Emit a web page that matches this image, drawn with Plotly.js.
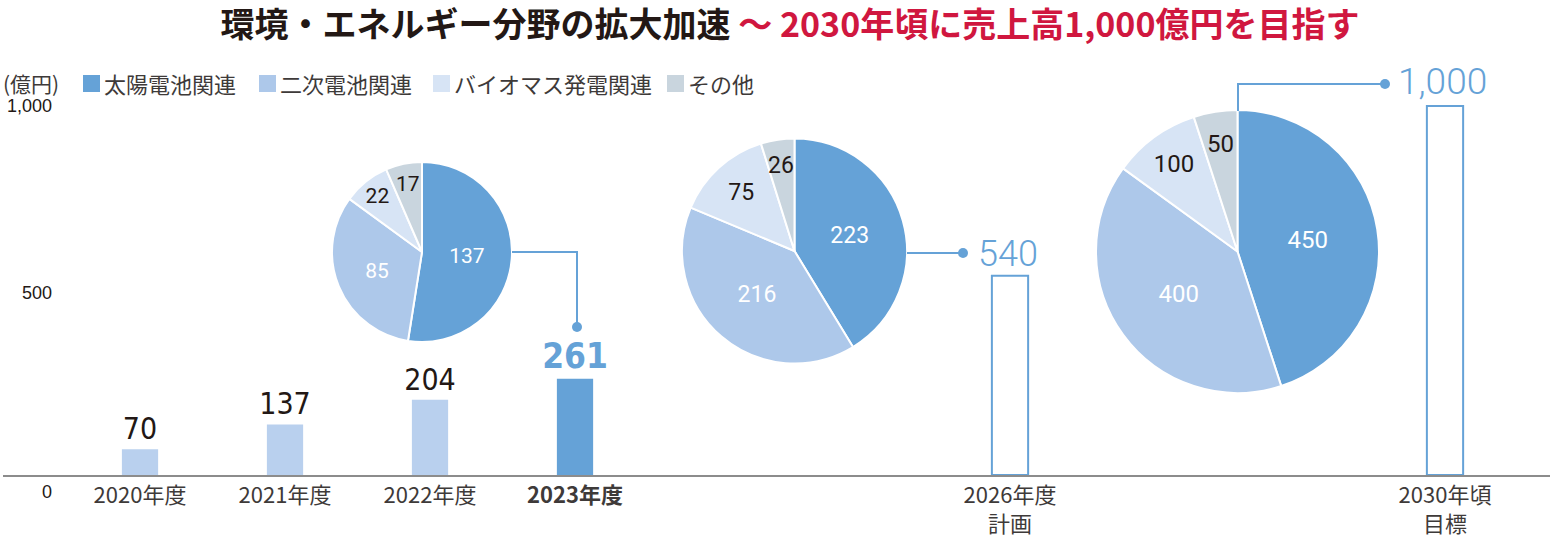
<!DOCTYPE html>
<html>
<head>
<meta charset="utf-8">
<script src="https://cdn.plot.ly/plotly-3.0.1.min.js"></script>
<style>html,body{margin:0;padding:0;background:#fff;}#chart{width:1550px;height:540px;}</style>
</head>
<body>
<div id="chart"></div>
<script>
// ---------- data ----------
const categories = ['2020年度', '2021年度', '2022年度', '<b>2023年度</b>', '2026年度<br>計画', '2030年頃<br>目標'];
const xSlots = [0, 1, 2, 3, 6, 9];            // slot index on the time axis
const totals = [70, 137, 204, 261, 540, 1000]; // 億円
const segmentNames = ['太陽電池関連', '二次電池関連', 'バイオマス発電関連', 'その他'];
const pie2023 = [137, 85, 22, 17];
const pie2026 = [223, 216, 75, 26];
const pie2030 = [450, 400, 100, 50];
const yTickVals = [0, 500, 1000];
const yTickText = ['0', '500', '1,000'];
const unitLabel = '(億円)';
const titleMain = '環境・エネルギー分野の拡大加速';
const titleSub = '〜 2030年頃に売上高1,000億円を目指す';

// ---------- style ----------
const BLUE = '#65a2d7';
const segColors = ['#65a2d7', '#adc8ea', '#d7e4f5', '#c9d5de'];
const BAR_LIGHT = '#b9d0ee';
const INK = '#231815';
const CJK = 'Noto Sans CJK JP, sans-serif';
const NARROW = 'Liberation Sans Narrow, DejaVu Sans Condensed, sans-serif';
const PIEFONT = 'Roboto, Liberation Sans, sans-serif';

const M = {l: 3, r: 0, t: 60, b: 65};
const W = 1550, H = 540;
const PW = W - M.l - M.r, PH = H - M.t - M.b;
const px = x => (x - M.l) / PW;
const py = y => (H - M.b - y) / PH;

// ---------- bars ----------
const barColors = totals.map((v, i) => i < 3 ? BAR_LIGHT : (i === 3 ? BLUE : '#ffffff'));
const barLineW = totals.map((v, i) => i > 3 ? 2 : 0);
const barText = totals.map((v, i) => i < 3 ? String(v) : (i === 3 ? '<b>' + v + '</b>' : ''));
const fmt = v => v.toLocaleString('en-US');

const traces = [{
  type: 'bar', x: xSlots, y: totals, width: 0.25,
  marker: {color: barColors, line: {color: BLUE, width: barLineW}},
  text: barText, textposition: 'outside', constraintext: 'none', cliponaxis: false,
  textfont: {
    family: NARROW,
    size: totals.map((v, i) => i === 3 ? 35 : 30),
    color: totals.map((v, i) => i === 3 ? BLUE : INK)
  },
  hoverinfo: 'skip', showlegend: false
}];

const shapes = [];
const annotations = [];

function pieTrace(vals, cx, cy, r, fs) {
  // the smallest slice's label is placed along its bisector (the library would shrink it)
  const total = vals.reduce((a, b) => a + b, 0);
  let acc = 0;
  vals.forEach((v, i) => {
    const mid = (acc + v / 2) / total * 2 * Math.PI; acc += v;
    if (i === vals.length - 1) {
      const rr = 0.77 * r;
      annotations.push({xref: 'paper', yref: 'paper', x: px(cx + rr * Math.sin(mid)), y: py(cy - rr * Math.cos(mid)),
        xanchor: 'center', yanchor: 'middle', text: String(v), showarrow: false,
        font: {family: PIEFONT, size: fs, color: INK}});
    }
  });
  return {
    type: 'pie', values: vals, labels: segmentNames, sort: false,
    direction: 'clockwise', rotation: 0,
    domain: {x: [px(cx - r), px(cx + r)], y: [py(cy + r), py(cy - r)]},
    marker: {colors: segColors, line: {color: '#ffffff', width: 2}},
    textinfo: 'value', textposition: ['inside', 'inside', 'inside', 'none'], insidetextorientation: 'horizontal',
    textfont: {family: PIEFONT, size: fs, color: ['#fff', '#fff', INK, INK]},
    hoverinfo: 'skip', showlegend: false
  };
}
traces.push(pieTrace(pie2023, 422, 252, 90, 21));
traces.push(pieTrace(pie2026, 794.5, 251, 112.5, 23));
traces.push(pieTrace(pie2030, 1237.5, 251.5, 141.5, 24));

// ---------- leader lines ----------
function seg(x0, y0, x1, y1) {
  shapes.push({type: 'line', xref: 'paper', yref: 'paper', x0: px(x0), y0: py(y0), x1: px(x1), y1: py(y1),
    line: {color: BLUE, width: 2}});
}
function dot(x, y, r) {
  shapes.push({type: 'circle', xref: 'paper', yref: 'paper', x0: px(x - r), x1: px(x + r), y0: py(y + r), y1: py(y - r),
    fillcolor: BLUE, line: {color: BLUE, width: 0}});
}
seg(512, 252, 577, 252); seg(577, 251, 577, 327); dot(577, 327, 5);
seg(907, 253, 963, 253); dot(963, 253, 5);
seg(1238, 111, 1238, 84); seg(1237, 84, 1385, 84); dot(1385, 84, 5);

annotations.push({xref: 'paper', yref: 'paper', x: px(976), y: py(254), xanchor: 'left', yanchor: 'middle',
  text: fmt(totals[4]), showarrow: false, font: {family: 'Roboto, sans-serif', size: 36, color: BLUE, weight: 300}});
annotations.push({xref: 'paper', yref: 'paper', x: px(1396), y: py(81), xanchor: 'left', yanchor: 'middle',
  text: fmt(totals[5]), showarrow: false, font: {family: 'Roboto, sans-serif', size: 37, color: BLUE, weight: 300}});

// y tick labels
const yShift = [-17, -2, 0];
yTickVals.forEach((v, i) => {
  annotations.push({xref: 'paper', yref: 'y', x: px(54), y: v, yshift: yShift[i], xanchor: 'right', yanchor: 'middle',
    text: yTickText[i], showarrow: false, font: {family: 'Liberation Sans, sans-serif', size: 18, color: INK}});
});

// legend
annotations.push({xref: 'paper', yref: 'paper', x: px(1), y: py(83), xanchor: 'left', yanchor: 'middle',
  text: unitLabel, showarrow: false, font: {family: CJK, size: 21, color: '#3e3a39'}});
const legX = [83, 259, 433, 667];
segmentNames.forEach((n, i) => {
  shapes.push({type: 'rect', xref: 'paper', yref: 'paper', x0: px(legX[i]), x1: px(legX[i] + 17), y0: py(92), y1: py(75),
    fillcolor: segColors[i], line: {width: 0}});
  annotations.push({xref: 'paper', yref: 'paper', x: px(legX[i] + 19), y: py(83), xanchor: 'left', yanchor: 'middle',
    text: n, showarrow: false, font: {family: CJK, size: 22, color: '#3e3a39'}});
});

const layout = {
  width: W, height: H, margin: M, paper_bgcolor: '#fff', plot_bgcolor: '#fff',
  title: {
    text: '<b>' + titleMain + ' <span style="color:#d0173f">' + titleSub + '</span></b>',
    font: {family: CJK, size: 34, color: INK},
    x: 790 / W, xref: 'container', xanchor: 'center', y: 1 - 25 / H, yref: 'container', yanchor: 'middle'
  },
  xaxis: {
    range: [-(140 - M.l) / 145, -(140 - M.l) / 145 + PW / 145], tickvals: xSlots, ticktext: categories,
    showgrid: false, zeroline: false, showline: true, linecolor: '#8c8c8c', linewidth: 1.5, ticks: '',
    tickfont: {family: CJK, size: 22, color: '#3e3a39'}, fixedrange: true
  },
  yaxis: {range: [0, PH / 0.369], showgrid: false, zeroline: false, showline: false, showticklabels: false, fixedrange: true},
  bargap: 0, shapes: shapes, annotations: annotations, showlegend: false
};

Plotly.newPlot('chart', traces, layout, {staticPlot: true, displayModeBar: false});
</script>
</body>
</html>
